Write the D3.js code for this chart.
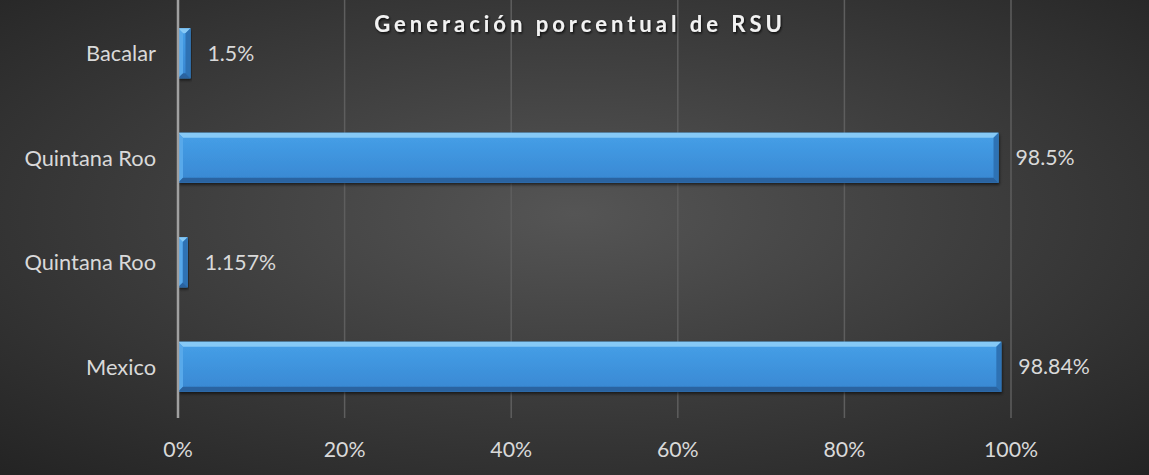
<!DOCTYPE html>
<html>
<head>
<meta charset="utf-8">
<style>
  html, body { margin: 0; padding: 0; background: #2a2a2a; }
  svg { display: block; }
  text { font-family: Lato, "Open Sans", sans-serif; }
</style>
</head>
<body>
<svg id="chart"></svg>
<script src="https://cdnjs.cloudflare.com/ajax/libs/d3/7.8.5/d3.min.js"></script>
<script>
// data, top to bottom as drawn
const categories = ["Bacalar", "Quintana Roo", "Quintana Roo", "Mexico"];
const values = [1.5, 98.5, 1.157, 98.84];
const valueLabels = ["1.5%", "98.5%", "1.157%", "98.84%"];
const xTicks = [0, 20, 40, 60, 80, 100];
const title = "Generación porcentual de RSU";

const WIDTH = 1149, HEIGHT = 475;
const margin = {top: 0, right: 138, bottom: 57, left: 178};
const fontSize = "21.3px";

const svg = d3.select("#chart")
    .attr("width", WIDTH)
    .attr("height", HEIGHT);

const defs = svg.append("defs");

const bg = defs.append("radialGradient")
    .attr("id", "bg")
    .attr("cx", "50%").attr("cy", "45%").attr("r", "75%");
bg.append("stop").attr("offset", "0%").attr("stop-color", "#555555");
bg.append("stop").attr("offset", "100%").attr("stop-color", "#232323");

const barFill = defs.append("linearGradient")
    .attr("id", "barFill")
    .attr("x1", 0).attr("y1", 0).attr("x2", 0).attr("y2", 1);
barFill.append("stop").attr("offset", "0%").attr("stop-color", "#46a0e8");
barFill.append("stop").attr("offset", "100%").attr("stop-color", "#3887d2");

const shadow = defs.append("filter").attr("id", "shadow")
    .attr("x", "-5%").attr("y", "-20%").attr("width", "110%").attr("height", "150%");
shadow.append("feDropShadow")
    .attr("dx", 1).attr("dy", 2).attr("stdDeviation", 1.5)
    .attr("flood-color", "#000").attr("flood-opacity", 0.6);

const tshadow = defs.append("filter").attr("id", "tshadow");
tshadow.append("feDropShadow")
    .attr("dx", 1).attr("dy", 1.5).attr("stdDeviation", 1.2)
    .attr("flood-color", "#000").attr("flood-opacity", 0.8);

svg.append("rect")
    .attr("width", WIDTH).attr("height", HEIGHT)
    .attr("fill", "url(#bg)");

const x = d3.scaleLinear()
    .domain([0, 100])
    .range([margin.left, WIDTH - margin.right]);

const y = d3.scaleBand()
    .domain(d3.range(categories.length))
    .range([margin.top, HEIGHT - margin.bottom])
    .paddingInner(0.52)
    .paddingOuter(0.26);

// gridlines
svg.append("g")
    .selectAll("line")
    .data(xTicks.slice(1))
    .join("line")
    .attr("x1", d => x(d)).attr("x2", d => x(d))
    .attr("y1", margin.top).attr("y2", HEIGHT - margin.bottom)
    .attr("stroke", "#5e5e5e")
    .attr("stroke-width", 1.5);

// x tick labels
svg.append("g")
    .selectAll("text")
    .data(xTicks)
    .join("text")
    .attr("x", d => x(d))
    .attr("y", 457)
    .attr("text-anchor", "middle")
    .attr("fill", "#d9d9d9")
    .style("font-size", fontSize)
    .text(d => d + "%");

// bars with a bevel look
const bevel = 5;
const bar = svg.append("g")
    .selectAll("g")
    .data(values)
    .join("g")
    .attr("transform", (d, i) => `translate(${x(0)},${y(i) + 1})`);

bar.append("rect")
    .attr("width", d => x(d) - x(0))
    .attr("height", y.bandwidth())
    .attr("fill", "url(#barFill)")
    .attr("filter", "url(#shadow)");

function bevelPolys(w, h) {
  const b = Math.min(bevel, w / 2, h / 2);
  return [
    {pts: [[0, 0], [w, 0], [w - b, b], [b, b]], fill: "#86c9f6"},        // top
    {pts: [[0, 0], [b, b], [b, h - b], [0, h]], fill: "#58a9ea"},        // left
    {pts: [[w, 0], [w, h], [w - b, h - b], [w - b, b]], fill: "#2e72b4"}, // right
    {pts: [[0, h], [b, h - b], [w - b, h - b], [w, h]], fill: "#2a63a0"}  // bottom
  ];
}

bar.each(function(d) {
  const w = x(d) - x(0), h = y.bandwidth();
  d3.select(this).selectAll("polygon")
    .data(bevelPolys(w, h))
    .join("polygon")
    .attr("points", p => p.pts.map(q => q.join(",")).join(" "))
    .attr("fill", p => p.fill);
});

// value labels
svg.append("g")
    .selectAll("text")
    .data(values)
    .join("text")
    .attr("x", d => x(d) + 17)
    .attr("y", (d, i) => y(i) + y.bandwidth() / 2 + 1)
    .attr("dy", "0.36em")
    .attr("fill", "#d9d9d9")
    .style("font-size", fontSize)
    .text((d, i) => valueLabels[i]);

// category labels
svg.append("g")
    .selectAll("text")
    .data(categories)
    .join("text")
    .attr("x", margin.left - 22)
    .attr("y", (d, i) => y(i) + y.bandwidth() / 2 + 1)
    .attr("dy", "0.36em")
    .attr("text-anchor", "end")
    .attr("fill", "#d9d9d9")
    .style("font-size", "21.8px")
    .text(d => d);

// vertical axis line
svg.append("line")
    .attr("x1", x(0)).attr("x2", x(0))
    .attr("y1", margin.top).attr("y2", HEIGHT - margin.bottom)
    .attr("stroke", "#a0a0a0")
    .attr("stroke-width", 2.5);

// title
svg.append("text")
    .attr("x", 580)
    .attr("y", 32)
    .attr("text-anchor", "middle")
    .attr("fill", "#f2f2f2")
    .attr("filter", "url(#tshadow)")
    .style("font-size", "22px")
    .style("font-weight", "bold")
    .style("letter-spacing", "4px")
    .text(title);
</script>
</body>
</html>
